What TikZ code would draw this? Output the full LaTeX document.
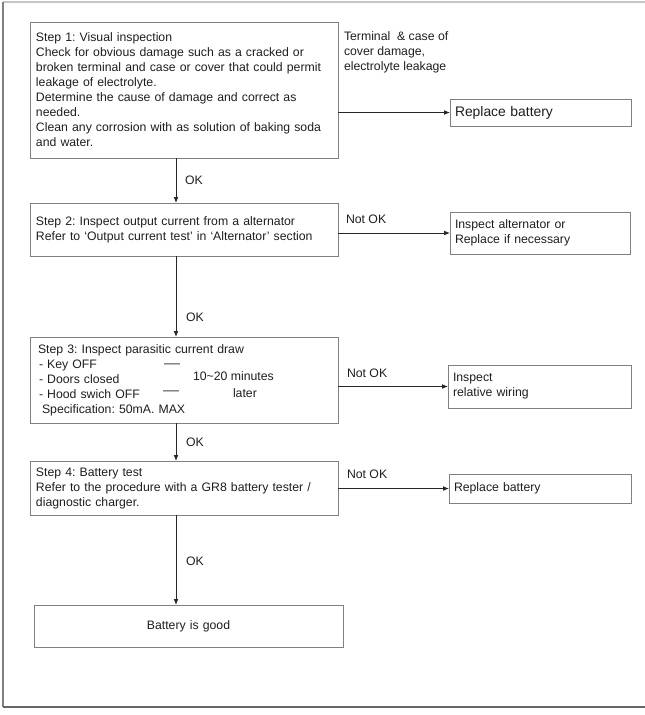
\documentclass[tikz,border=0pt]{standalone}
\usepackage{fontspec}
\setmainfont{Liberation Sans}
\usetikzlibrary{arrows.meta}
\definecolor{boxc}{HTML}{808080}
\definecolor{txt}{HTML}{1E1E1E}
\definecolor{arr}{HTML}{262626}
\frenchspacing
\begin{document}
\begin{tikzpicture}[x=0.75pt,y=-0.75pt,
 every node/.style={inner sep=0pt, outer sep=0pt, text=txt, font=\fontsize{9.2}{11.25}\selectfont},
 box/.style={draw=boxc, line width=0.6pt, anchor=north west, align=left, inner xsep=4.5pt, inner ysep=0pt},
 rbox/.style={box, inner xsep=3.75pt},
 lbl/.style={anchor=west},
 link/.style={draw=arr, line width=0.6pt, -{Latex[length=4.5pt,width=3.6pt]}}
]
\useasboundingbox (0,0) rectangle (645,715);
% outer frame
\draw[draw=gray!45, line width=0.8pt] (3,2) -- (645,2);
\draw[draw=gray, line width=0.8pt] (3,2) -- (3,707);
\draw[draw=gray!80!black, line width=0.8pt] (3,707) -- (645,707);

% main column
\node[box, minimum width=231pt, minimum height=102pt, text width=222pt] (s1) at (30,22)
 {Step 1: Visual inspection\\Check for obvious damage such as a cracked or\\broken terminal and case or cover that could permit\\leakage of electrolyte.\\Determine the cause of damage and correct as\\needed.\\Clean any corrosion with as solution of baking soda\\and water.};
\node[box, minimum width=231pt, minimum height=39.75pt, text width=222pt] (s2) at (30,203)
 {Step 2: Inspect output current from a alternator\\Refer to `Output current test' in `Alternator' section};
\node[box, inner xsep=6pt, minimum width=231pt, minimum height=64.5pt, text width=219pt] (s3) at (30,337)
 {Step 3: Inspect parasitic current draw\\\hspace*{0.75pt}- Key OFF\\\hspace*{0.75pt}- Doors closed\\\hspace*{0.75pt}- Hood swich OFF\\\hspace*{3pt}Specification: 50mA. MAX};
\node[box, minimum width=231pt, minimum height=40.5pt, text width=222pt] (s4) at (30,461)
 {Step 4: Battery test\\Refer to the procedure with a GR8 battery tester /\\diagnostic charger.};
\node[box, align=center, minimum width=231.75pt, minimum height=31.5pt, text width=222pt] (good) at (34,605)
 {Battery is good};

% right column
\node[rbox, minimum width=135.75pt, minimum height=20.25pt, text width=128.25pt, font=\fontsize{10.4}{12}\selectfont] (r1) at (450,99) {Replace battery};
\node[rbox, minimum width=135pt, minimum height=31.5pt, text width=127.5pt] (r2) at (450,212) {Inspect alternator or\\Replace if necessary};
\node[rbox, minimum width=137.25pt, minimum height=32.25pt, text width=129.75pt] (r3) at (448,365) {Inspect\\relative wiring};
\node[rbox, minimum width=136.5pt, minimum height=21.75pt, text width=129pt] (r4) at (449,474) {Replace battery};

% labels
\node[anchor=north west, align=left] (t1) at (344,32) {Terminal \ \&\ case of\\cover damage,\\electrolyte leakage};
\node[lbl] (n2) at (346,219) {Not OK};
\node[lbl] (n3) at (347,373) {Not OK};
\node[lbl] (n4) at (347,474) {Not OK};
\node[lbl] (ok1) at (185,180) {OK};
\node[lbl] (ok2) at (186,317) {OK};
\node[lbl] (ok3) at (186,442) {OK};
\node[lbl] (ok4) at (186,561) {OK};
\node[lbl] (d1) at (164,366) {\scalebox{1.3}[1]{—}};
\node[lbl] (d2) at (163,393) {\scalebox{1.3}[1]{—}};
\node[lbl] (m1) at (193,376) {10\textasciitilde 20 minutes};
\node[lbl] (m2) at (233,393) {later};

% connectors
\coordinate (cx) at (176,0);
\draw[link] (s1.south -| cx) -- (s2.north -| cx);
\draw[link] (s2.south -| cx) -- (s3.north -| cx);
\draw[link] (s3.south -| cx) -- (s4.north -| cx);
\draw[link] (s4.south -| cx) -- (good.north -| cx);
\draw[link] (s1.east |- r1.west) -- (r1.west);
\draw[link] (s2.east |- r2.west) -- (r2.west);
\draw[link] (s3.east |- r3.west) -- (r3.west);
\draw[link] (s4.east |- r4.west) -- (r4.west);
\end{tikzpicture}
\end{document}
